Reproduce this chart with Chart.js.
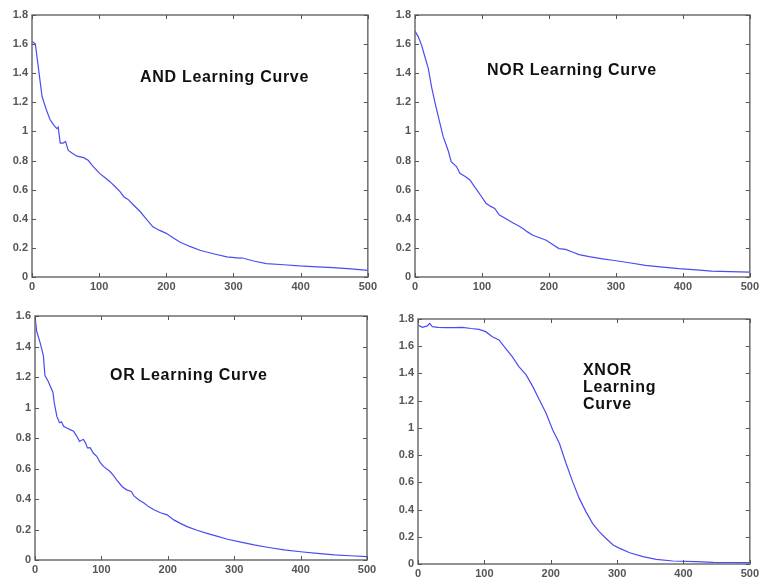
<!DOCTYPE html>
<html>
<head>
<meta charset="utf-8">
<script src="https://cdn.jsdelivr.net/npm/chart.js@4"></script>
<style>
  body { margin: 0; background: #fff; }
  #wrap { position: relative; width: 762px; height: 577px; overflow: hidden; }
  canvas { position: absolute; }
  .note { position: absolute; font: bold 16px "Liberation Sans", Arial, sans-serif; letter-spacing: 0.7px; color: #111; line-height: 17px; white-space: nowrap; }
</style>
</head>
<body>
<div id="wrap">
  <canvas id="cAnd" width="380" height="296" style="left:0;top:0"></canvas>
  <canvas id="cNor" width="379" height="296" style="left:383px;top:0"></canvas>
  <canvas id="cOr" width="380" height="279" style="left:0;top:298px"></canvas>
  <canvas id="cXnor" width="379" height="279" style="left:383px;top:298px"></canvas>
  <div class="note" style="left:140px;top:68px">AND Learning Curve</div>
  <div class="note" style="left:487px;top:61px">NOR Learning Curve</div>
  <div class="note" style="left:110px;top:366px">OR Learning Curve</div>
  <div class="note" style="left:583px;top:361px">XNOR<br>Learning<br>Curve</div>
</div>
<script>
// epochs en fout-waarden per poort
const andEpochs = [0, 5, 10, 15, 22, 27, 33, 37, 39, 42, 46, 50, 54, 60, 67, 77, 84, 89, 95, 101, 108, 116, 124, 131, 137, 143, 150, 161, 170, 180, 190, 200, 210, 220, 235, 250, 270, 290, 309, 312, 330, 349, 375, 398, 425, 448, 475, 500];
const andValues = [1.62, 1.6, 1.42, 1.24, 1.14, 1.08, 1.04, 1.02, 1.03, 0.92, 0.92, 0.93, 0.87, 0.85, 0.83, 0.82, 0.8, 0.77, 0.74, 0.71, 0.685, 0.655, 0.62, 0.586, 0.55, 0.533, 0.5, 0.45, 0.4, 0.345, 0.32, 0.3, 0.27, 0.24, 0.21, 0.184, 0.16, 0.138, 0.13, 0.132, 0.11, 0.092, 0.084, 0.076, 0.07, 0.064, 0.056, 0.046];

const norEpochs = [0, 5, 10, 15, 20, 25, 30, 37, 42, 50, 54, 62, 67, 75, 82, 92, 99, 106, 113, 119, 126, 136, 146, 155, 161, 168, 176, 186, 196, 205, 215, 225, 235, 245, 260, 280, 295, 320, 344, 370, 394, 420, 443, 470, 500];
const norValues = [1.69, 1.65, 1.59, 1.51, 1.43, 1.3, 1.195, 1.06, 0.966, 0.862, 0.793, 0.759, 0.713, 0.69, 0.667, 0.6, 0.555, 0.506, 0.485, 0.471, 0.425, 0.4, 0.372, 0.35, 0.333, 0.31, 0.287, 0.27, 0.253, 0.225, 0.195, 0.19, 0.172, 0.154, 0.14, 0.125, 0.115, 0.098, 0.08, 0.068, 0.057, 0.049, 0.041, 0.037, 0.034];

const orEpochs = [0, 2.5, 8, 12.6, 15, 20, 23, 27, 29, 33, 37, 40, 43, 48, 53, 58, 63, 67, 70, 73, 76, 79, 83, 88, 93, 98, 103, 113, 118, 123, 131, 138, 145, 149, 156, 164, 171, 179, 189, 199, 209, 219, 229, 244, 259, 275, 290, 310, 330, 352, 375, 400, 425, 451, 475, 500];
const orValues = [1.6, 1.5, 1.42, 1.34, 1.21, 1.17, 1.14, 1.1, 1.03, 0.94, 0.9, 0.906, 0.877, 0.865, 0.855, 0.844, 0.811, 0.778, 0.785, 0.79, 0.768, 0.735, 0.737, 0.7, 0.68, 0.64, 0.614, 0.58, 0.555, 0.526, 0.482, 0.46, 0.45, 0.42, 0.395, 0.373, 0.35, 0.329, 0.31, 0.296, 0.263, 0.24, 0.219, 0.195, 0.175, 0.155, 0.136, 0.117, 0.099, 0.082, 0.066, 0.054, 0.044, 0.033, 0.028, 0.022];

const xnorEpochs = [0, 6.5, 14, 17.6, 21.6, 30, 42, 55, 67, 80, 92, 102, 112, 122, 132, 142, 152, 163, 173, 183, 193, 203, 213, 223, 233, 243, 253, 263, 273, 283, 294, 304, 319, 339, 359, 384, 419, 445, 470, 500];
const xnorValues = [1.756, 1.739, 1.749, 1.768, 1.744, 1.738, 1.736, 1.737, 1.739, 1.73, 1.724, 1.707, 1.67, 1.646, 1.585, 1.523, 1.45, 1.389, 1.303, 1.205, 1.107, 0.985, 0.887, 0.74, 0.605, 0.482, 0.385, 0.299, 0.238, 0.189, 0.14, 0.115, 0.083, 0.054, 0.034, 0.022, 0.017, 0.012, 0.011, 0.01];

const xTicks = [0, 100, 200, 300, 400, 500];

// MATLAB-achtige rand met tick-streepjes naar binnen
const boxPlugin = {
  id: "box",
  afterDraw(chart) {
    const { ctx, chartArea: a, scales } = chart;
    ctx.save();
    ctx.strokeStyle = "#6e6e6e";
    ctx.lineWidth = 1.5;
    ctx.strokeRect(a.left, a.top, a.right - a.left, a.bottom - a.top);
    ctx.lineWidth = 1;
    ctx.strokeStyle = "#555";
    ctx.beginPath();
    scales.x.ticks.forEach((t) => {
      const px = Math.round(scales.x.getPixelForValue(t.value)) + 0.5;
      ctx.moveTo(px, a.bottom); ctx.lineTo(px, a.bottom - 4);
      ctx.moveTo(px, a.top); ctx.lineTo(px, a.top + 4);
    });
    scales.y.ticks.forEach((t) => {
      const py = Math.round(scales.y.getPixelForValue(t.value)) + 0.5;
      ctx.moveTo(a.left, py); ctx.lineTo(a.left + 4, py);
      ctx.moveTo(a.right, py); ctx.lineTo(a.right - 4, py);
    });
    ctx.stroke();
    ctx.restore();
  },
};

function makeChart(id, epochs, values, yMax, box) {
  const tickFont = { family: "'Liberation Sans', Arial, sans-serif", size: 11, weight: "bold" };
  return new Chart(document.getElementById(id), {
    type: "line",
    data: {
      datasets: [{
        data: epochs.map((e, i) => ({ x: e, y: values[i] })),
        borderColor: "#4b4bf5",
        borderWidth: 1.2,
        pointRadius: 0,
        tension: 0,
      }],
    },
    options: {
      responsive: false,
      animation: false,
      layout: { padding: { left: 0, top: box.top, right: box.right, bottom: 0 } },
      plugins: { legend: { display: false }, tooltip: { enabled: false } },
      scales: {
        x: {
          type: "linear", min: 0, max: 500,
          afterBuildTicks: (s) => { s.ticks = xTicks.map((v) => ({ value: v })); },
          afterFit: (s) => { s.height = box.bottom; },
          grid: { display: false, drawTicks: false },
          border: { display: false },
          ticks: { font: tickFont, color: "#555", padding: 3, maxRotation: 0 },
        },
        y: {
          min: 0, max: yMax,
          afterFit: (s) => { s.width = box.left; },
          grid: { display: false, drawTicks: false },
          border: { display: false },
          ticks: {
            stepSize: 0.2, font: tickFont, color: "#555", padding: 4,
            callback: (v) => String(+v.toFixed(1)),
          },
        },
      },
    },
    plugins: [boxPlugin],
  });
}

makeChart("cAnd", andEpochs, andValues, 1.8, { left: 32, top: 15, right: 12, bottom: 19 });
makeChart("cNor", norEpochs, norValues, 1.8, { left: 32, top: 15, right: 10, bottom: 19 });
makeChart("cOr", orEpochs, orValues, 1.6, { left: 35, top: 18, right: 13, bottom: 17 });
makeChart("cXnor", xnorEpochs, xnorValues, 1.8, { left: 35, top: 21, right: 11, bottom: 13 });
</script>
</body>
</html>
